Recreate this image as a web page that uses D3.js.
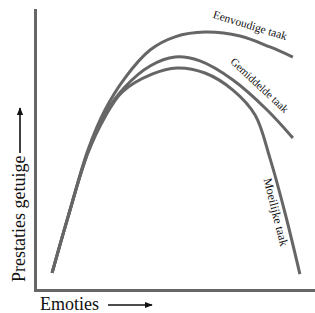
<!DOCTYPE html>
<html>
<head>
    <script type="text/javascript" src="https://d3js.org/d3.v7.min.js"></script>
    <style>
        body { margin: 0; background: #fff; }
        svg { display: block; }
    </style>
</head>
<body>
    <svg></svg>
    <script>
        // curve data: [emotion, performance] on a 0-100 scale
        const easyTask = [[6.1, 6.1], [11.8, 26.1], [18.9, 50], [25, 64.3], [32.1, 75.7], [41.1, 85.7],
            [50, 90.4], [60.7, 92.1], [73.2, 90.7], [83.9, 86.8], [92.1, 83.2]];
        const mediumTask = [[6.1, 6.1], [11.8, 26.1], [18.9, 49.3], [25, 62.9], [32.1, 72.5], [41.1, 80],
            [50, 83.2], [58.9, 81.8], [70.7, 75], [82.9, 64.3], [92.1, 54.3]];
        const hardTask = [[6.1, 6.1], [11.8, 26.1], [18.9, 48.9], [25, 61.8], [31.1, 70.7], [41.8, 77.1],
            [50.7, 79.3], [60.7, 77.5], [70.7, 71.4], [78.6, 62.5], [83.9, 47.1], [89.3, 27.5], [94.6, 5.7]];
        const curveLabels = ["Eenvoudige taak", "Gemiddelde taak", "Moeilijke taak"];
        const xLabel = "Emoties";
        const yLabel = "Prestaties getuige";

        const width = 315, height = 313;
        const serif = "'Liberation Serif', 'DejaVu Serif', 'Times New Roman', serif";
        const svg = d3.select("svg").attr("width", width).attr("height", height);

        const x = d3.scaleLinear().domain([0, 100]).range([35, 315]);
        const y = d3.scaleLinear().domain([0, 100]).range([290, 10]);

        // axes without ticks
        svg.append("g").attr("transform", "translate(35,0)")
            .call(d3.axisLeft(y).ticks(0).tickSizeOuter(0));
        svg.append("g").attr("transform", "translate(0,290)")
            .call(d3.axisBottom(x).ticks(0).tickSizeOuter(0));
        svg.selectAll(".domain")
            .attr("stroke", "#666")
            .attr("stroke-width", 3)
            .attr("stroke-linecap", "square");

        const line = d3.line()
            .x(d => x(d[0]))
            .y(d => y(d[1]))
            .curve(d3.curveCatmullRom.alpha(0.5));

        svg.selectAll(".curve")
            .data([easyTask, mediumTask, hardTask])
            .enter()
            .append("path")
            .attr("class", "curve")
            .attr("d", line)
            .attr("fill", "none")
            .attr("stroke", "#666")
            .attr("stroke-width", 3);

        // labels along the curves
        const labelPlace = [
            { x: 249, y: 29, angle: 17, size: 11.5 },
            { x: 257, y: 88, angle: 43, size: 11 },
            { x: 272, y: 213, angle: 76, size: 12 }
        ];
        svg.selectAll(".clabel")
            .data(curveLabels)
            .enter()
            .append("text")
            .attr("class", "clabel")
            .attr("font-family", serif)
            .attr("fill", "#111")
            .attr("text-anchor", "middle")
            .attr("font-size", (d, i) => labelPlace[i].size)
            .attr("transform", (d, i) => `translate(${labelPlace[i].x},${labelPlace[i].y}) rotate(${labelPlace[i].angle})`)
            .text(d => d);

        // arrow marker
        svg.append("defs").append("marker")
            .attr("id", "arrow")
            .attr("viewBox", "0 0 10 10")
            .attr("refX", 9).attr("refY", 5)
            .attr("markerWidth", 5).attr("markerHeight", 5)
            .attr("orient", "auto")
            .append("path")
            .attr("d", "M0,1 L10,5 L0,9 Z")
            .attr("fill", "#111");

        // x label + arrow
        svg.append("text")
            .attr("x", 40).attr("y", 310)
            .attr("font-family", serif)
            .attr("font-size", 18)
            .attr("fill", "#111")
            .text(xLabel);
        svg.append("line")
            .attr("x1", 108).attr("y1", 305)
            .attr("x2", 152).attr("y2", 305)
            .attr("stroke", "#111").attr("stroke-width", 1.6)
            .attr("marker-end", "url(#arrow)");

        // y label + arrow
        svg.append("text")
            .attr("transform", "translate(25,282) rotate(-90)")
            .attr("font-family", serif)
            .attr("font-size", 18)
            .attr("fill", "#111")
            .text(yLabel);
        svg.append("line")
            .attr("x1", 20).attr("y1", 153)
            .attr("x2", 20).attr("y2", 108)
            .attr("stroke", "#111").attr("stroke-width", 1.6)
            .attr("marker-end", "url(#arrow)");
    </script>
</body>
</html>
